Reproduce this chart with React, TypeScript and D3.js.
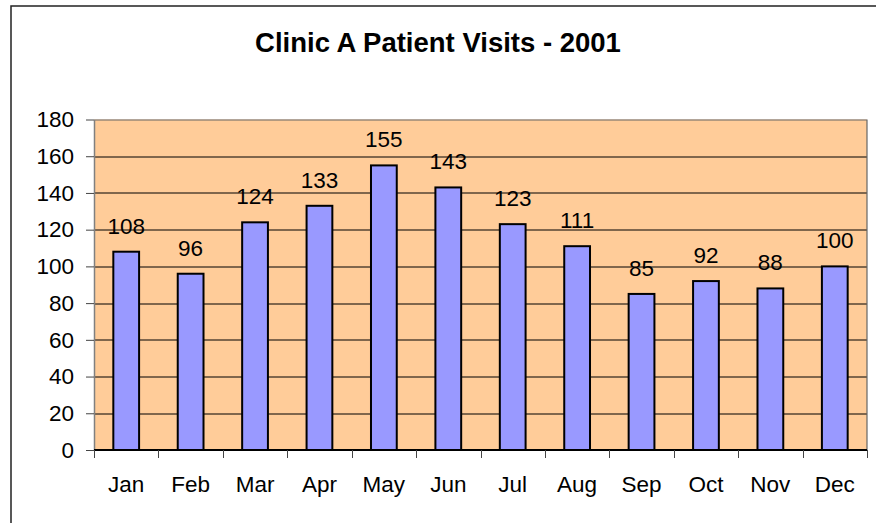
import React, { useEffect, useRef } from "react";
import * as d3 from "d3";

const months = ["Jan", "Feb", "Mar", "Apr", "May", "Jun", "Jul", "Aug", "Sep", "Oct", "Nov", "Dec"];
const visits = [108, 96, 124, 133, 155, 143, 123, 111, 85, 92, 88, 100];
const yTicks = [0, 20, 40, 60, 80, 100, 120, 140, 160, 180];
const chartTitle = "Clinic A Patient Visits - 2001";

const width = 876;
const height = 523;
const margin = { top: 119.5, right: 9, bottom: 73, left: 94 };

const App: React.FC = () => {
  const svgRef = useRef<SVGSVGElement>(null);

  useEffect(() => {
    document.body.style.margin = "0";
    if (!svgRef.current) return;
    const svg = d3.select(svgRef.current);
    svg.selectAll("*").remove();

    const innerWidth = width - margin.left - margin.right;
    const innerHeight = height - margin.top - margin.bottom;
    const font = "'Liberation Sans', Arial, sans-serif";

    // 外枠
    svg
      .append("rect")
      .attr("x", 11)
      .attr("y", 6)
      .attr("width", width + 20)
      .attr("height", height + 20)
      .attr("fill", "white")
      .attr("stroke", "#222")
      .attr("stroke-width", 1.5);

    svg
      .append("text")
      .attr("x", 438)
      .attr("y", 52)
      .attr("text-anchor", "middle")
      .style("font-family", font)
      .style("font-size", "27.5px")
      .style("font-weight", "bold")
      .text(chartTitle);

    const g = svg.append("g").attr("transform", `translate(${margin.left},${margin.top})`);

    const x = d3.scaleBand().domain(months).range([0, innerWidth]).paddingInner(0).paddingOuter(0);
    const y = d3.scaleLinear().domain([0, 180]).range([innerHeight, 0]);

    g.append("rect")
      .attr("width", innerWidth)
      .attr("height", innerHeight)
      .attr("fill", "#FFCC99");

    // グリッド線
    g.selectAll(".grid")
      .data(yTicks.filter((t) => t > 0 && t < 180))
      .enter()
      .append("line")
      .attr("x1", 0)
      .attr("x2", innerWidth)
      .attr("y1", (d) => Math.round(y(d)) + 0.5)
      .attr("y2", (d) => Math.round(y(d)) + 0.5)
      .attr("stroke", "black")
      .attr("stroke-width", 1);

    // プロットの上辺と右辺
    g.append("path")
      .attr("d", `M0,0.5H${innerWidth}V${innerHeight}`)
      .attr("fill", "none")
      .attr("stroke", "#666")
      .attr("stroke-width", 1.2);

    // 棒
    const barW = x.bandwidth() * 0.4;
    g.selectAll(".bar")
      .data(visits)
      .enter()
      .append("rect")
      .attr("x", (_, i) => (x(months[i]) || 0) + (x.bandwidth() - barW) / 2)
      .attr("y", (d) => y(d))
      .attr("width", barW)
      .attr("height", (d) => innerHeight - y(d))
      .attr("fill", "#9999FF")
      .attr("stroke", "black")
      .attr("stroke-width", 2);

    // データラベル
    g.selectAll(".lbl")
      .data(visits)
      .enter()
      .append("text")
      .attr("x", (_, i) => (x(months[i]) || 0) + x.bandwidth() / 2)
      .attr("y", (d) => y(d) - 18)
      .attr("text-anchor", "middle")
      .style("font-family", font)
      .style("font-size", "22.5px")
      .text((d) => d);

    // Y軸
    const yAxis = g
      .append("g")
      .call(d3.axisLeft(y).tickValues(yTicks).tickSize(8).tickSizeOuter(0));
    yAxis.select(".domain").attr("stroke", "#808080").attr("stroke-width", 1.5);
    yAxis.selectAll(".tick line").attr("stroke", "#444");
    yAxis
      .selectAll(".tick text")
      .attr("x", -20)
      .attr("fill", "black")
      .style("font-family", font)
      .style("font-size", "22.5px");

    // X軸
    const xAxis = g.append("g").attr("transform", `translate(0,${innerHeight})`);
    xAxis
      .append("line")
      .attr("x1", 0)
      .attr("x2", innerWidth)
      .attr("stroke", "black")
      .attr("stroke-width", 2);
    xAxis
      .selectAll(".xt")
      .data(d3.range(months.length + 1))
      .enter()
      .append("line")
      .attr("x1", (i) => Math.round(i * x.step()) + 0.5)
      .attr("x2", (i) => Math.round(i * x.step()) + 0.5)
      .attr("y1", 0)
      .attr("y2", 8)
      .attr("stroke", "#444");
    xAxis
      .selectAll(".xl")
      .data(months)
      .enter()
      .append("text")
      .attr("x", (d) => (x(d) || 0) + x.bandwidth() / 2)
      .attr("y", 42)
      .attr("text-anchor", "middle")
      .style("font-family", font)
      .style("font-size", "22.5px")
      .text((d) => d);
  }, []);

  return (
    <div>
      <svg ref={svgRef} width={width} height={height} style={{ display: "block" }} />
    </div>
  );
};

export default App;
